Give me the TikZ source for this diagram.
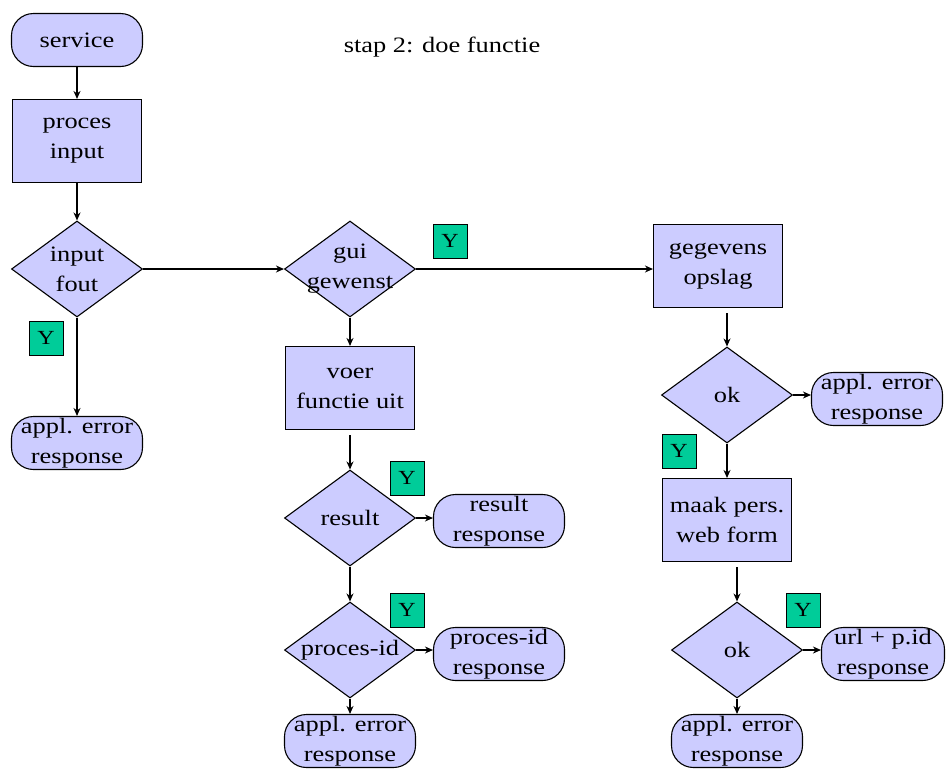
\documentclass[tikz,border=0pt]{standalone}
\usepackage{fontspec}
\setmainfont{Liberation Serif}[FakeStretch=1.2]
\usetikzlibrary{shapes.geometric,arrows.meta}

\definecolor{boxfill}{RGB}{204,204,255}
\definecolor{yesfill}{RGB}{0,204,153}

\tikzset{
  txt/.style={align=center,inner sep=0pt,font=\fontsize{22}{30}\selectfont},
  term/.style={draw,fill=boxfill,rounded corners=22pt,minimum width=131pt,minimum height=53pt,inner sep=0pt},
  proc/.style={draw,fill=boxfill,minimum width=129pt,minimum height=83pt,inner sep=0pt,txt},
  decision/.style={diamond,draw,fill=boxfill,minimum width=131pt,minimum height=96pt,inner sep=0pt},
  ybox/.style={draw,fill=yesfill,line width=1pt,minimum size=34pt,inner sep=0pt,font=\fontsize{20}{24}\selectfont},
}

\begin{document}
\begin{tikzpicture}[x=1pt,y=-1pt,line width=1.1pt,>={Stealth[length=8pt,width=7pt]}]
  \useasboundingbox (0,0) rectangle (947,769);

  \node[txt] (title) at (442,47) {stap 2: doe functie};

  % linker kolom
  \node[term,label={[txt]center:service}] (service) at (77,40) {};
  \node[proc] (procin) at (77,141) {proces\\input};
  \node[decision,label={[txt]center:input\\fout}] (fout) at (77,269) {};
  \node[ybox] (y1) at (46,338) {Y};
  \node[term,label={[txt]center:appl. error\\response}] (err1) at (77,443) {};

  % midden
  \node[decision,label={[txt]center:gui\\gewenst}] (gui) at (350,269) {};
  \node[ybox] (y2) at (450,241) {Y};
  \node[proc] (voer) at (350,388) {voer\\functie uit};
  \node[decision,label={[txt]center:result}] (result) at (350,518) {};
  \node[ybox] (y3) at (407,478) {Y};
  \node[term,label={[txt]center:result\\response}] (resresp) at (499,521) {};
  \node[decision,label={[txt]center:proces-id}] (procid) at (350,650) {};
  \node[ybox] (y4) at (407,610) {Y};
  \node[term,label={[txt]center:proces-id\\response}] (pidresp) at (499,654) {};
  \node[term,label={[txt]center:appl. error\\response}] (err2) at (350,741) {};

  % rechter kolom
  \node[proc] (opslag) at (718,266) {gegevens\\opslag};
  \node[decision,label={[txt]center:ok}] (ok1) at (727,395) {};
  \node[ybox] (y5) at (679,451) {Y};
  \node[term,label={[txt]center:appl. error\\response}] (err3) at (877,399) {};
  \node[proc] (maak) at (727,520) {maak pers.\\web form};
  \node[decision,label={[txt]center:ok}] (ok2) at (737,650) {};
  \node[ybox] (y6) at (803,610) {Y};
  \node[term,minimum width=123pt,label={[txt]center:url + p.id\\response}] (url) at (883,654) {};
  \node[term,label={[txt]center:appl. error\\response}] (err4) at (737,741) {};

  % verbindingen
  \draw[->] (service) -- (procin);
  \draw[->] (procin) -- (fout);
  \draw[->] (fout.east) -- (gui.west);
  \draw[->] (fout) -- (err1);
  \draw[->] (gui.east) -- (gui.east -| opslag.west);
  \draw[->] (gui) -- (voer);
  \draw[->,shorten <=5pt] (voer) -- (result);
  \draw[->] (result.east) -- (result.east -| resresp.west);
  \draw[->] (result) -- (procid);
  \draw[->] (procid.east) -- (procid.east -| pidresp.west);
  \draw[->] (procid) -- (err2);
  \draw[->,shorten <=5pt] (opslag.south -| ok1.north) -- (ok1);
  \draw[->] (ok1.east) -- (ok1.east -| err3.west);
  \draw[->] (ok1) -- (maak);
  \draw[->,shorten <=5pt] (maak.south -| ok2.north) -- (ok2);
  \draw[->] (ok2.east) -- (ok2.east -| url.west);
  \draw[->] (ok2) -- (err4);
\end{tikzpicture}
\end{document}
